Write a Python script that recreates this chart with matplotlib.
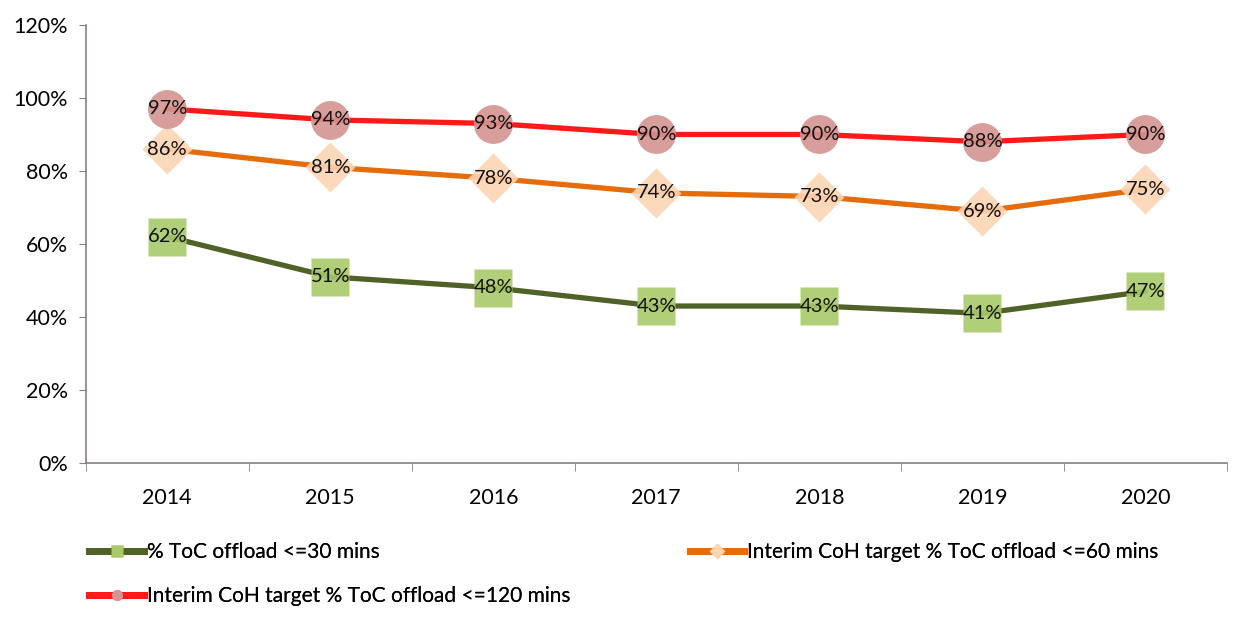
import matplotlib.pyplot as plt
from matplotlib.lines import Line2D

plt.rcParams["font.family"] = ["Lato", "DejaVu Sans"]

years = ["2014", "2015", "2016", "2017", "2018", "2019", "2020"]
within_30 = [62, 51, 48, 43, 43, 41, 47]
within_60 = [86, 81, 78, 74, 73, 69, 75]
within_120 = [97, 94, 93, 90, 90, 88, 90]

labels = [
    "% ToC offload <=30 mins",
    "Interim CoH target % ToC offload <=60 mins",
    "Interim CoH target % ToC offload <=120 mins",
]

AXIS_COLOR = "#8a7f7c"

series = [
    (within_30, "#4f6228", "#a9c96b", "s", 28),
    (within_60, "#e46c0a", "#fcd5b4", "D", 25),
    (within_120, "#ff1a1a", "#d49490", "o", 28),
]

fig = plt.figure(figsize=(12.43, 6.24), dpi=100)
ax = fig.add_axes([0.069, 0.258, 0.918, 0.702])

x = list(range(len(years)))
handles = []
for vals, lc, mc, mk, ms in series:
    ax.plot(x, vals, color=lc, lw=3.8, zorder=2, solid_capstyle="round")
    ax.plot(x, vals, ls="none", marker=mk, ms=ms, mfc=mc, mec="none",
            alpha=0.9, zorder=3)
    for xi, v in zip(x, vals):
        ax.text(xi, v, f"{v}%", ha="center", va="center", fontsize=14.5,
                color="#111111", zorder=4)
    handles.append(Line2D([], [], color=lc, lw=5, marker=mk, ms=8,
                          mfc=mc, mec="none"))

ax.set_xlim(-0.5, len(years) - 0.5)
ax.set_ylim(0, 120)
ax.set_yticks(range(0, 121, 20))
ax.set_yticklabels([f"{v}%" for v in range(0, 121, 20)])
ax.set_xticks(x)
ax.set_xticklabels(years)
ax.set_xticks([i - 0.5 for i in range(len(years) + 1)], minor=True)
ax.tick_params(axis="x", which="major", length=0, pad=18, labelsize=15.5)
ax.tick_params(axis="x", which="minor", length=6, color=AXIS_COLOR)
ax.tick_params(axis="y", length=5, color=AXIS_COLOR, labelsize=15.5, pad=8)
for s in ["top", "right"]:
    ax.spines[s].set_visible(False)
for s in ["left", "bottom"]:
    ax.spines[s].set_color(AXIS_COLOR)
    ax.spines[s].set_linewidth(1.2)

legend_pos = [(0.072, 0.115), (0.555, 0.115), (0.072, 0.045)]
for h, lab, pos in zip(handles, labels, legend_pos):
    leg = fig.legend([h], [lab], loc="center left", bbox_to_anchor=pos,
                     frameon=False, fontsize=15, handlelength=2.6,
                     handletextpad=0.15, borderpad=0, borderaxespad=0)
    fig.add_artist(leg)

fig.savefig("out.png", dpi=100)
